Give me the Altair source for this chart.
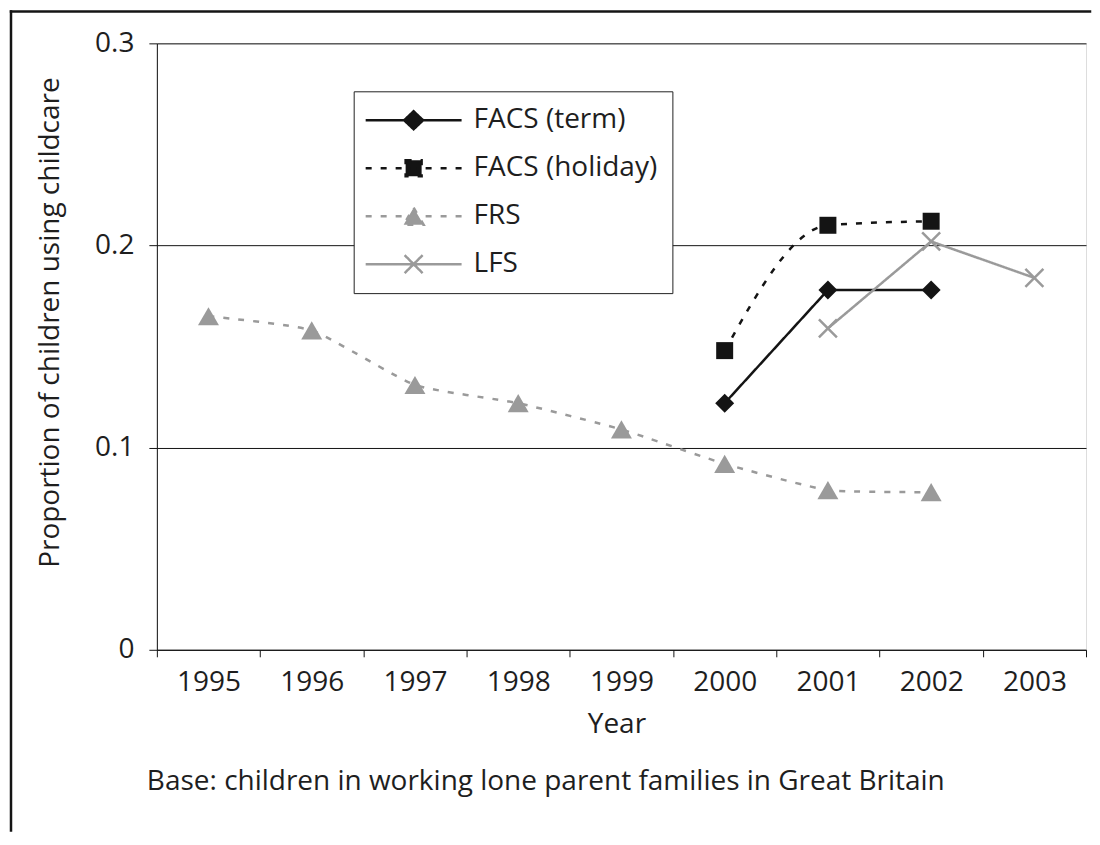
import altair as alt
import pandas as pd

FONT = "Open Sans"
TEXT = "#1e1e1e"
BLACK = "#141414"
GRAY = "#9a9a9a"

years = ["1995", "1996", "1997", "1998", "1999", "2000", "2001", "2002", "2003"]
series_names = ["FACS (term)", "FACS (holiday)", "FRS", "LFS"]

facs_term_years = ["2000", "2001", "2002"]
facs_term = [0.122, 0.178, 0.178]

facs_holiday_years = ["2000", "2001", "2002"]
facs_holiday = [0.148, 0.210, 0.212]

frs_years = ["1995", "1996", "1997", "1998", "1999", "2000", "2001", "2002"]
frs = [0.165, 0.158, 0.131, 0.122, 0.109, 0.092, 0.079, 0.078]

lfs_years = ["2001", "2002", "2003"]
lfs = [0.159, 0.202, 0.184]

y_ticks = [0, 0.1, 0.2, 0.3]
base_note = "Base: children in working lone parent families in Great Britain"

rows = []
for name, yrs, vals in [
    ("FACS (term)", facs_term_years, facs_term),
    ("FACS (holiday)", facs_holiday_years, facs_holiday),
    ("FRS", frs_years, frs),
    ("LFS", lfs_years, lfs),
]:
    for yr, v in zip(yrs, vals):
        rows.append({"series": name, "year": yr, "value": v})
df = pd.DataFrame(rows)

colors = [BLACK, BLACK, GRAY, GRAY]
dashes = [[1, 0], [6, 9], [6, 9], [1, 0]]
legend_paths = [
    "M-4.8,0L4.8,0M0,-0.9L0.95,0L0,0.9L-0.95,0Z",
    "M-4.8,0L4.8,0M-0.8,-0.8L0.8,-0.8L0.8,0.8L-0.8,0.8Z",
    "M-4.8,0L4.8,0M0,-0.85L1,0.85L-1,0.85Z",
    "M-4.8,0L4.8,0M-0.9,-0.9L0.9,0.9M0.9,-0.9L-0.9,0.9",
]

stroke_scale = alt.Scale(domain=series_names, range=colors)
fill_scale = alt.Scale(domain=series_names, range=colors)
dash_scale = alt.Scale(domain=series_names, range=dashes)
shape_scale = alt.Scale(domain=series_names, range=legend_paths)

x_enc = alt.X(
    "year:O",
    bandPosition=0.5,
    scale=alt.Scale(type="band", domain=years, paddingInner=0, paddingOuter=0),
    axis=alt.Axis(
        title="Year",
        tickBand="extent",
        labelAngle=0,
        tickSize=7,
        tickColor=BLACK,
        domainColor=BLACK,
        grid=False,
        labelFont=FONT,
        labelFontSize=28,
        labelColor=TEXT,
        labelPadding=12,
        titleFont=FONT,
        titleFontSize=28,
        titleFontWeight=500,
        titleColor=TEXT,
        titleX=460,
        titleY=83,
        titleBaseline="alphabetic",
        titleAlign="center",
    ),
)
y_enc = alt.Y(
    "value:Q",
    scale=alt.Scale(domain=[0, 0.3], nice=False),
    axis=alt.Axis(
        values=y_ticks,
        format=".1~f",
        grid=True,
        gridColor=BLACK,
        gridWidth=1,
        tickSize=8,
        tickColor=BLACK,
        domainColor=BLACK,
        labelFont=FONT,
        labelFontSize=28,
        labelColor=TEXT,
        labelPadding=15,
        title="Proportion of children using childcare",
        titleFont=FONT,
        titleFontSize=28,
        titleFontWeight="normal",
        titleColor=TEXT,
        titleAngle=270,
        titleX=-98,
        titleY=279,
        titleBaseline="alphabetic",
        titleAlign="center",
    ),
)

LEG = alt.Legend(
    orient="none",
    legendX=197,
    legendY=48,
    title=None,
    fillColor="white",
    strokeColor="#222222",
    padding=15,
    rowPadding=20,
    symbolOffset=31,
    labelOffset=46,
    labelFont=FONT,
    labelFontSize=28,
    labelColor=TEXT,
    labelLimit=400,
    symbolSize=400,
    symbolStrokeWidth=2.5,
    symbolFillColor=BLACK,
    symbolStrokeColor=BLACK,
)

base = alt.Chart(df)

legend_layer = base.mark_point(opacity=0, filled=True).encode(
    x=x_enc,
    y=y_enc,
    shape=alt.Shape("series:N", scale=shape_scale, legend=LEG),
    fill=alt.Fill("series:N", scale=fill_scale, legend=LEG),
    stroke=alt.Stroke("series:N", scale=stroke_scale, legend=LEG),
    strokeDash=alt.StrokeDash("series:N", scale=dash_scale, legend=LEG),
)

straight = base.transform_filter(
    alt.FieldOneOfPredicate(field="series", oneOf=["FACS (term)", "LFS"])
).mark_line(strokeWidth=2.5).encode(
    x=x_enc,
    y=y_enc,
    stroke=alt.Stroke("series:N", scale=stroke_scale),
    strokeDash=alt.StrokeDash("series:N", scale=dash_scale),
)

smooth_holiday = base.transform_filter(
    alt.datum.series == "FACS (holiday)"
).mark_line(strokeWidth=2.5, interpolate="monotone").encode(
    x=x_enc,
    y=y_enc,
    stroke=alt.Stroke("series:N", scale=stroke_scale),
    strokeDash=alt.StrokeDash("series:N", scale=dash_scale),
)

smooth_frs = base.transform_filter(
    alt.datum.series == "FRS"
).mark_line(strokeWidth=2.5, interpolate="cardinal", tension=0.5).encode(
    x=x_enc,
    y=y_enc,
    stroke=alt.Stroke("series:N", scale=stroke_scale),
    strokeDash=alt.StrokeDash("series:N", scale=dash_scale),
)

marker_specs = [
    ("FACS (term)", dict(shape="diamond", filled=True, size=361, fill=BLACK, strokeWidth=0)),
    ("FACS (holiday)", dict(shape="square", filled=True, size=289, fill=BLACK, strokeWidth=0)),
    ("FRS", dict(shape="triangle-up", filled=True, size=441, fill=GRAY, strokeWidth=0)),
    ("LFS", dict(shape="M-1,-1L1,1M1,-1L-1,1", filled=False, size=324, stroke=GRAY, strokeWidth=2.5)),
]
marker_layers = []
for name, kw in marker_specs:
    marker_layers.append(
        base.transform_filter(alt.datum.series == name)
        .mark_point(opacity=1, **kw)
        .encode(x=x_enc, y=y_enc)
    )

one = pd.DataFrame({"note": [base_note]})
note = alt.Chart(one).mark_text(
    align="left", baseline="alphabetic", font=FONT, fontSize=28, color=TEXT
).encode(text="note:N", x=alt.value(-10), y=alt.value(747))

frame_left = alt.Chart(one).mark_rule(color=BLACK, strokeWidth=2.5, strokeCap="square").encode(
    x=alt.value(-146), y=alt.value(-32), y2=alt.value(788)
)
frame_top = alt.Chart(one).mark_rule(color=BLACK, strokeWidth=2.5, strokeCap="square").encode(
    x=alt.value(-146), x2=alt.value(934), y=alt.value(-32)
)

chart = alt.layer(
    legend_layer, straight, smooth_holiday, smooth_frs, *marker_layers, note, frame_left, frame_top
).properties(
    width=930,
    height=607,
    padding={"left": 1, "top": 1, "right": 0, "bottom": 0},
    autosize=alt.AutoSizeParams(type="pad"),
).configure_view(stroke=None).configure(background="white")

chart.save("out.html", embed_options={"renderer": "svg", "actions": False})
